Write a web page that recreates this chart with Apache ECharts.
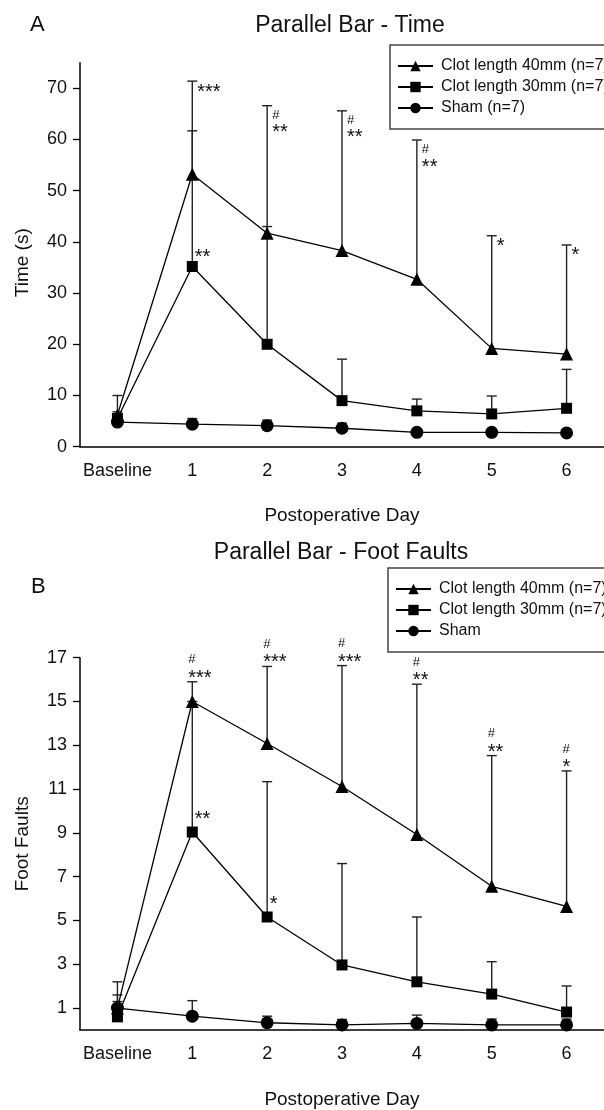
<!DOCTYPE html>
<html>
<head>
<meta charset="utf-8">
<script src="https://cdn.jsdelivr.net/npm/echarts@6/dist/echarts.min.js"></script>
<style>
  html, body { margin: 0; padding: 0; background: #fff; }
  #chart { width: 604px; height: 1110px; }
</style>
</head>
<body>
<div id="chart"></div>
<script>
const days = ["Baseline", "1", "2", "3", "4", "5", "6"];

// Panel A - time (s): group means and top end of the error bar
const timeClot40 = [6.2, 53.2, 41.7, 38.3, 32.7, 19.2, 18.1];
const timeClot40Up = [10.0, 71.4, 66.6, 65.6, 59.9, 41.2, 39.4];
const timeClot30 = [5.5, 35.2, 20.0, 9.0, 7.0, 6.4, 7.5];
const timeClot30Up = [6.8, 61.7, 43.0, 17.1, 9.3, 9.9, 15.1];
const timeSham = [4.8, 4.4, 4.1, 3.6, 2.8, 2.8, 2.7];
const timeShamUp = [5.3, 5.5, 5.2, 4.6, 3.2, 3.3, 3.1];
const timeTicks = [0, 10, 20, 30, 40, 50, 60, 70];

// Panel B - foot faults
const faultClot40 = [1.0, 15.0, 13.08, 11.12, 8.93, 6.56, 5.64];
const faultClot40Up = [2.2, 15.9, 16.6, 16.64, 15.79, 12.53, 11.83];
const faultClot30 = [0.6, 9.04, 5.16, 2.97, 2.2, 1.64, 0.82];
const faultClot30Up = [1.6, 15.0, 11.34, 7.6, 5.16, 3.12, 2.01];
const faultSham = [1.0, 0.63, 0.33, 0.23, 0.3, 0.23, 0.23];
const faultShamUp = [1.3, 1.34, 0.63, 0.48, 0.68, 0.5, 0.5];
const faultTicks = [1, 3, 5, 7, 9, 11, 13, 15, 17];

// significance marks
const timeStars40 = ["", "***", "**", "**", "**", "*", "*"];
const timeHash40 = [false, false, true, true, true, false, false];
const timeStars30 = ["", "**", "", "", "", "", ""];
const faultStars40 = ["", "***", "***", "***", "**", "**", "*"];
const faultHash40 = [false, true, true, true, true, true, true];
const faultStars30 = ["", "**", "*", "", "", "", ""];

const nameA = ["Clot length 40mm (n=7)", "Clot length 30mm (n=7)", "Sham (n=7)"];
const nameB = ["Clot length 40mm (n=7)", "Clot length 30mm (n=7)", "Sham"];

const FONT = "Liberation Sans";
const INK = "#111";

const chart = echarts.init(document.getElementById("chart"), null, { renderer: "canvas" });

function lineSeries(idx, name, data, symbol, size) {
  return {
    type: "line",
    name,
    xAxisIndex: idx,
    yAxisIndex: idx,
    data,
    symbol,
    symbolSize: size,
    z: 3,
    color: "#000",
    lineStyle: { color: "#000", width: 1.3 },
    itemStyle: { color: "#000" },
  };
}

function errorBars(idx, mean, upper) {
  return {
    type: "custom",
    xAxisIndex: idx,
    yAxisIndex: idx,
    z: 2,
    silent: true,
    data: mean.map((m, i) => [i, m, upper[i]]),
    encode: { x: 0, y: [1, 2] },
    renderItem(params, api) {
      const lo = api.coord([api.value(0), api.value(1)]);
      const hi = api.coord([api.value(0), api.value(2)]);
      const style = { stroke: "#222", lineWidth: 1.4 };
      return {
        type: "group",
        children: [
          { type: "line", shape: { x1: lo[0], y1: lo[1], x2: hi[0], y2: hi[1] }, style },
          { type: "line", shape: { x1: hi[0] - 5, y1: hi[1], x2: hi[0] + 5, y2: hi[1] }, style },
        ],
      };
    },
  };
}

// place: "right" = beside the top of the bar, "above" = over the cap, "near" = over the mean
function signif(idx, anchor, stars, hashes, place) {
  return {
    type: "custom",
    xAxisIndex: idx,
    yAxisIndex: idx,
    z: 4,
    silent: true,
    data: anchor.map((v, i) => [i, v]),
    encode: { x: 0, y: 1 },
    renderItem(params, api) {
      const i = params.dataIndex;
      if (!stars[i]) return null;
      const p = api.coord([api.value(0), api.value(1)]);
      const hash = hashes && hashes[i];
      let sx, sy, hx, hy;
      if (place === "right") {
        sx = p[0] + 5;
        sy = hash ? p[1] + 22.5 : p[1] + 6.5;
        hx = p[0] + 5;
        hy = p[1] + 9.5;
      } else if (place === "above") {
        sx = p[0] - 4;
        sy = p[1] - 8;
        hx = p[0] - 4;
        hy = p[1] - 22;
      } else {
        sx = p[0] + 2.5;
        sy = p[1] - (idx === 0 ? 13 : 17);
      }
      const children = [
        {
          type: "text",
          style: {
            text: stars[i], x: sx, y: sy + 4.5,
            font: "20px " + FONT, fill: INK, align: "left", verticalAlign: "middle",
          },
        },
      ];
      if (hash) {
        children.push({
          type: "text",
          style: {
            text: "#", x: hx, y: hy,
            font: "13px " + FONT, fill: INK, align: "left", verticalAlign: "middle",
          },
        });
      }
      return { type: "group", children };
    },
  };
}

function xAxis(idx) {
  return {
    type: "category",
    gridIndex: idx,
    data: days,
    boundaryGap: true,
    name: "Postoperative Day",
    nameLocation: "middle",
    nameGap: 60,
    nameTextStyle: { fontFamily: FONT, fontSize: 19, color: INK },
    axisLine: { lineStyle: { color: "#000", width: 1.5 } },
    axisTick: { alignWithLabel: true, interval: 0, length: 6, lineStyle: { color: "#000", width: 1.3 } },
    axisLabel: { interval: 0, fontFamily: FONT, fontSize: 18, color: INK, margin: 15 },
    splitLine: { show: false },
  };
}

function yAxis(idx, name, max, ticks, pad) {
  return {
    type: "value",
    gridIndex: idx,
    min: 0,
    max,
    name,
    nameLocation: "middle",
    nameGap: 48,
    nameTextStyle: { fontFamily: FONT, fontSize: 19, color: INK, padding: pad },
    axisLine: { show: true, lineStyle: { color: "#000", width: 1.5 } },
    axisTick: { show: true, length: 7, customValues: ticks, lineStyle: { color: "#000", width: 1.3 } },
    axisLabel: { fontFamily: FONT, fontSize: 18, color: INK, margin: 13, customValues: ticks },
    splitLine: { show: false },
  };
}

function legend(left, top, names) {
  return {
    orient: "vertical",
    left,
    top,
    data: names,
    padding: [13, 14, 13, 7],
    itemGap: 5,
    itemWidth: 35,
    itemHeight: 13,
    borderColor: "#444",
    borderWidth: 1.5,
    selectedMode: false,
    textStyle: { fontFamily: FONT, fontSize: 16, color: INK, padding: [0, 0, 0, 3] },
  };
}

const options = {
  animation: false,
  backgroundColor: "#fff",
  title: [
    { text: "A", left: 30, top: 14, padding: 0, textStyle: { fontFamily: FONT, fontSize: 22, fontWeight: "normal", color: INK } },
    { text: "Parallel Bar - Time", left: 350, top: 14, padding: 0, textAlign: "center", textStyle: { fontFamily: FONT, fontSize: 23, fontWeight: "normal", color: INK } },
    { text: "Parallel Bar - Foot Faults", left: 341, top: 541, padding: 0, textAlign: "center", textStyle: { fontFamily: FONT, fontSize: 23, fontWeight: "normal", color: INK } },
    { text: "B", left: 31, top: 576, padding: 0, textStyle: { fontFamily: FONT, fontSize: 22, fontWeight: "normal", color: INK } },
  ],
  legend: [legend(390, 45, nameA), legend(388, 568, nameB)],
  grid: [
    { left: 80, right: -10, top: 62.7, height: 384 },
    { left: 80, right: -10, top: 657.7, height: 382.5 },
  ],
  xAxis: [xAxis(0), xAxis(1)],
  yAxis: [
    yAxis(0, "Time (s)", 75, timeTicks, [0, 16, 0, 0]),
    yAxis(1, "Foot Faults", 17, faultTicks, 0),
  ],
  series: [
    errorBars(0, timeClot40, timeClot40Up),
    errorBars(0, timeClot30, timeClot30Up),
    errorBars(0, timeSham, timeShamUp),
    lineSeries(0, nameA[0], timeClot40, "triangle", 13),
    lineSeries(0, nameA[1], timeClot30, "rect", 11),
    lineSeries(0, nameA[2], timeSham, "circle", 13),
    signif(0, timeClot40Up, timeStars40, timeHash40, "right"),
    signif(0, timeClot30, timeStars30, null, "near"),

    errorBars(1, faultClot40, faultClot40Up),
    errorBars(1, faultClot30, faultClot30Up),
    errorBars(1, faultSham, faultShamUp),
    lineSeries(1, nameB[0], faultClot40, "triangle", 13),
    lineSeries(1, nameB[1], faultClot30, "rect", 11),
    lineSeries(1, nameB[2], faultSham, "circle", 13),
    signif(1, faultClot40Up, faultStars40, faultHash40, "above"),
    signif(1, faultClot30, faultStars30, null, "near"),
  ],
};

chart.setOption(options);
</script>
</body>
</html>
